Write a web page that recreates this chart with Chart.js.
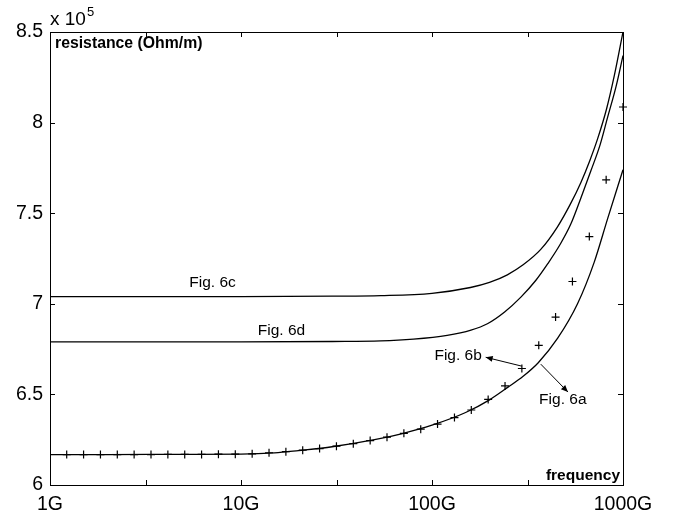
<!DOCTYPE html>
<html>
<head>
<meta charset="utf-8">
<script src="https://cdn.jsdelivr.net/npm/chart.js@4.4.1/dist/chart.umd.min.js"></script>
<style>
  html, body { margin: 0; padding: 0; background: #fff; }
  #wrap { width: 677px; height: 513px; position: relative; }
</style>
</head>
<body>
<div id="wrap"><canvas id="chart"></canvas></div>
<script>
// frequencies in G, resistance in units of 1e5 Ohm/m
const freq6c = [1, 10, 30, 54, 100, 159, 200, 248, 300, 371, 454, 530, 602, 670, 736, 820, 901, 1000];
const res6c  = [7.04, 7.04, 7.042, 7.045, 7.058, 7.09, 7.118, 7.16, 7.215, 7.30, 7.425, 7.55, 7.67, 7.79, 7.91, 8.075, 8.26, 8.5];

const freq6d = [1, 10, 30, 54, 80, 120, 160, 195, 240, 292, 350, 403, 470, 533, 600, 679, 760, 831, 920, 1000];
const res6d  = [6.79, 6.79, 6.792, 6.795, 6.805, 6.826, 6.855, 6.89, 6.955, 7.037, 7.13, 7.22, 7.33, 7.44, 7.58, 7.734, 7.88, 8.03, 8.2, 8.37];

const freq6a = [1, 2, 5, 10, 15, 20, 30, 50, 70, 100, 150, 200, 250, 300, 360, 455, 578, 707, 831, 1000];
const res6a  = [6.168, 6.168, 6.169, 6.170, 6.177, 6.190, 6.211, 6.25, 6.284, 6.33, 6.40, 6.47, 6.54, 6.60, 6.675, 6.81, 7.00, 7.23, 7.47, 7.74];

// measured points (Fig. 6b)
const freq6b = [1.223, 1.499, 1.837, 2.251, 2.757, 3.379, 4.141, 5.074, 6.218, 7.618, 9.335,
                11.44, 14.02, 17.18, 21.04, 25.79, 31.60, 38.72, 47.45, 58.13, 71.25, 87.30,
                106.9, 131.1, 160.6, 196.8, 241.2, 295.5, 362.2, 443.6, 543.6, 666.3, 816.2, 1000];
const res6b  = [6.168, 6.168, 6.168, 6.168, 6.168, 6.168, 6.169, 6.169, 6.169, 6.170, 6.170,
                6.172, 6.178, 6.184, 6.192, 6.201, 6.214, 6.228, 6.245, 6.264, 6.285, 6.308,
                6.336, 6.372, 6.414, 6.472, 6.547, 6.643, 6.771, 6.927, 7.123, 7.371, 7.684, 8.086];

const xTickValues = [1, 3.1623, 10, 31.623, 100, 316.23, 1000];
const xTickLabels = ['1G', '', '10G', '', '100G', '', '1000G'];
const yTickValues = [6, 6.5, 7, 7.5, 8, 8.5];
const yTickLabels = ['6', '6.5', '7', '7.5', '8', '8.5'];

// text labels placed in data coordinates
const curveLabels = [
  { text: 'Fig. 6c', x: 7.1, y: 7.115 },
  { text: 'Fig. 6d', x: 16.3, y: 6.854 },
  { text: 'Fig. 6b', x: 137, y: 6.716 },
  { text: 'Fig. 6a', x: 484, y: 6.469 }
];
const arrows = [
  { from: [295, 6.656], to: [191, 6.705] },
  { from: [371, 6.667], to: [515, 6.513] }
];

const FONT = '"Liberation Sans", Arial, Helvetica, sans-serif';
Chart.defaults.font.family = FONT;
Chart.defaults.color = '#000';

const toXY = (xs, ys) => xs.map((v, i) => ({ x: v, y: ys[i] }));

const curve = (label, xs, ys) => ({
  label: label,
  data: toXY(xs, ys),
  borderColor: '#000',
  borderWidth: 1.3,
  pointRadius: 0,
  cubicInterpolationMode: 'monotone',
  fill: false
});

const frame = {
  id: 'frame',
  afterDatasetsDraw(chart) {
    const { ctx, chartArea: a, scales: { x, y } } = chart;
    ctx.save();
    ctx.strokeStyle = '#000';
    ctx.fillStyle = '#000';
    ctx.lineWidth = 1;
    ctx.strokeRect(Math.round(a.left) + 0.5, Math.round(a.top) + 0.5,
                   Math.round(a.right - a.left), Math.round(a.bottom - a.top));

    // inward ticks on all four sides
    const len = 5;
    ctx.beginPath();
    xTickValues.forEach(v => {
      const px = Math.round(x.getPixelForValue(v)) + 0.5;
      ctx.moveTo(px, a.bottom); ctx.lineTo(px, a.bottom - len);
      ctx.moveTo(px, a.top); ctx.lineTo(px, a.top + len);
    });
    yTickValues.forEach(v => {
      const py = Math.round(y.getPixelForValue(v)) + 0.5;
      ctx.moveTo(a.left, py); ctx.lineTo(a.left + len, py);
      ctx.moveTo(a.right, py); ctx.lineTo(a.right - len, py);
    });
    ctx.stroke();

    // axis captions
    ctx.font = 'bold 15.8px ' + FONT;
    ctx.textBaseline = 'middle';
    ctx.textAlign = 'left';
    ctx.fillText('resistance (Ohm/m)', a.left + 5, a.top + 12);
    ctx.font = 'bold 15.5px ' + FONT;
    ctx.textAlign = 'right';
    ctx.fillText('frequency', a.right - 3, a.bottom - 9);

    ctx.textAlign = 'left';
    ctx.textBaseline = 'alphabetic';
    ctx.font = '19px ' + FONT;
    ctx.fillText('x 10', a.left, a.top - 7);
    const w = ctx.measureText('x 10').width;
    ctx.font = '13px ' + FONT;
    ctx.fillText('5', a.left + w + 1, a.top - 16);

    // curve labels
    ctx.font = '15.5px ' + FONT;
    ctx.textAlign = 'center';
    ctx.textBaseline = 'middle';
    curveLabels.forEach(l => {
      ctx.fillText(l.text, x.getPixelForValue(l.x), y.getPixelForValue(l.y));
    });

    // arrows
    arrows.forEach(ar => {
      const x0 = x.getPixelForValue(ar.from[0]), y0 = y.getPixelForValue(ar.from[1]);
      const x1 = x.getPixelForValue(ar.to[0]), y1 = y.getPixelForValue(ar.to[1]);
      const ang = Math.atan2(y1 - y0, x1 - x0);
      ctx.beginPath();
      ctx.moveTo(x0, y0); ctx.lineTo(x1, y1);
      ctx.stroke();
      const hl = 7, hw = 3;
      ctx.beginPath();
      ctx.moveTo(x1, y1);
      ctx.lineTo(x1 - hl * Math.cos(ang) + hw * Math.sin(ang), y1 - hl * Math.sin(ang) - hw * Math.cos(ang));
      ctx.lineTo(x1 - hl * Math.cos(ang) - hw * Math.sin(ang), y1 - hl * Math.sin(ang) + hw * Math.cos(ang));
      ctx.closePath();
      ctx.fill();
    });
    ctx.restore();
  }
};

const ctx = document.getElementById('chart').getContext('2d');
const chart = new Chart(ctx, {
  type: 'line',
  data: {
    datasets: [
      curve('Fig. 6c', freq6c, res6c),
      curve('Fig. 6d', freq6d, res6d),
      curve('Fig. 6a', freq6a, res6a),
      {
        label: 'Fig. 6b',
        data: toXY(freq6b, res6b),
        showLine: false,
        pointStyle: 'cross',
        pointRadius: 4,
        pointBorderWidth: 1.2,
        pointBorderColor: '#000',
        borderColor: '#000',
        clip: false
      }
    ]
  },
  options: {
    responsive: true,
    maintainAspectRatio: false,
    animation: false,
    layout: { padding: { left: 0, right: 54, top: 32, bottom: 0 } },
    plugins: {
      legend: { display: false },
      tooltip: { enabled: false }
    },
    scales: {
      x: {
        type: 'logarithmic',
        min: 1,
        max: 1000,
        grid: { display: false, drawTicks: false },
        border: { display: false },
        afterBuildTicks: axis => { axis.ticks = xTickValues.map(v => ({ value: v })); },
        afterFit: axis => { axis.height = 28; },
        ticks: {
          autoSkip: false,
          maxRotation: 0,
          padding: 8,
          font: { size: 19.5 },
          callback: (v, i) => xTickLabels[i]
        }
      },
      y: {
        type: 'linear',
        min: 6,
        max: 8.5,
        grid: { display: false, drawTicks: false },
        border: { display: false },
        afterBuildTicks: axis => { axis.ticks = yTickValues.map(v => ({ value: v })); },
        afterFit: axis => { axis.width = 50; },
        ticks: {
          padding: 7,
          font: { size: 19.5 },
          callback: (v, i) => yTickLabels[i]
        }
      }
    }
  },
  plugins: [frame]
});
</script>
</body>
</html>
